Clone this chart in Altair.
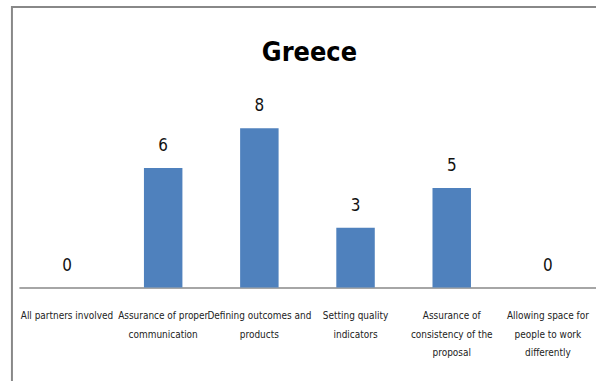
import altair as alt
import pandas as pd

categories = [
    "All partners involved",
    "Assurance of proper communication",
    "Defining outcomes and products",
    "Setting quality indicators",
    "Assurance of consistency of the proposal",
    "Allowing space for people to work differently",
]
values = [0, 6, 8, 3, 5, 0]
label_lines = [
    "All partners involved",
    "Assurance of proper|communication",
    "Defining outcomes and|products",
    "Setting quality|indicators",
    "Assurance of|consistency of the|proposal",
    "Allowing space for|people to work|differently",
]
title_text = ["Greece"]

df = pd.DataFrame({"cat": categories, "value": values, "label": label_lines})

FONT = "DejaVu Sans Condensed"

xenc = alt.X(
    "cat:N",
    sort=None,
    scale=alt.Scale(paddingInner=0.6, paddingOuter=0.3),
    axis=alt.Axis(labels=False, ticks=False, title=None, domainColor="#888888", domainWidth=1.5),
)
yscale = alt.Scale(domain=[0, 10])

base = alt.Chart(df)

bars = base.mark_bar(color="#4F81BD").encode(
    x=xenc,
    y=alt.Y("value:Q", scale=yscale, axis=None),
)

vals = base.mark_text(
    dy=-17, baseline="alphabetic", fontSize=17, font=FONT, color="#111111"
).encode(
    x=alt.X("cat:N", sort=None),
    y=alt.Y("value:Q", scale=yscale),
    text="value:Q",
)

cat_labels = base.mark_text(
    baseline="alphabetic", fontSize=10, font=FONT, color="#222222",
    lineBreak="|", lineHeight=18.5, align="center",
).encode(
    x=alt.X("cat:N", sort=None),
    y=alt.value(232),
    text="label:N",
)

frame = alt.Chart(pd.DataFrame({"k": [0]})).mark_rect(
    filled=False, stroke="#888888", strokeWidth=2, clip=False
).encode(
    x=alt.value(-7), x2=alt.value(700), y=alt.value(-82), y2=alt.value(400)
)

title = alt.Chart(pd.DataFrame({"t": title_text})).mark_text(
    fontSize=27, font=FONT, fontWeight="bold", color="#000000",
    baseline="alphabetic", align="center",
).encode(
    x=alt.value(292), y=alt.value(-28), text="t:N"
)

chart = alt.layer(frame, bars, vals, cat_labels, title).properties(
    width=580,
    height=200,
    autosize=alt.AutoSizeParams(type="none"),
    padding={"left": 19, "top": 88, "right": 0, "bottom": 93},
).configure_view(stroke=None)

chart.save("out.html", embed_options={"renderer": "svg", "actions": False})
